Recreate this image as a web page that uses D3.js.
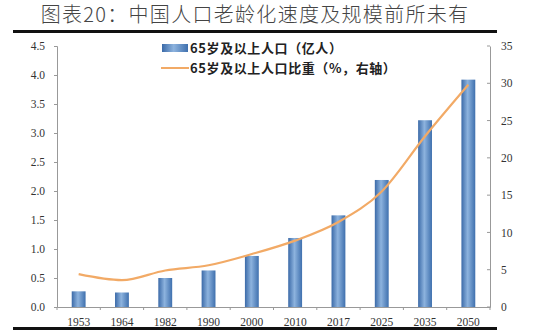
<!DOCTYPE html>
<html>
<head>
<meta charset="utf-8">
<script src="https://cdn.jsdelivr.net/npm/d3@7"></script>
<style>
  html, body { margin: 0; padding: 0; background: #fff; }
  svg { display: block; }
</style>
</head>
<body>
<svg id="chart" width="553" height="334"></svg>
<script>
// Census years and projections
const years = ["1953", "1964", "1982", "1990", "2000", "2010", "2017", "2025", "2035", "2050"];
// Population aged 65+ (hundred million people)
const elderly = [0.27, 0.25, 0.50, 0.63, 0.88, 1.19, 1.58, 2.19, 3.22, 3.92];
// Share of population aged 65+ (%, right axis)
const elderlyShare = [4.4, 3.6, 4.9, 5.6, 7.1, 8.9, 11.4, 15.5, 22.9, 29.8];
const leftTicks = [0, 0.5, 1.0, 1.5, 2.0, 2.5, 3.0, 3.5, 4.0, 4.5];
const rightTicks = [0, 5, 10, 15, 20, 25, 30, 35];

const svg = d3.select("#chart");
const serif = "'Liberation Serif', 'Times New Roman', serif";
const cjk = "'Noto Sans CJK SC', sans-serif";

const margin = { left: 57, right: 63, top: 46, bottom: 27 };
const W = 553, H = 334;
const x0 = margin.left, x1 = W - margin.right;
const y0 = H - margin.bottom, y1 = margin.top;

const x = d3.scaleBand().domain(years).range([x0, x1]).paddingInner(0.68).paddingOuter(0.34);
const yL = d3.scaleLinear().domain([0, 4.5]).range([y0, y1]);
const yR = d3.scaleLinear().domain([0, 35]).range([y0, y1]);

// Title
svg.append("text")
  .attr("x", 255).attr("y", 22)
  .attr("text-anchor", "middle")
  .attr("font-family", cjk)
  .attr("font-size", 20)
  .attr("font-weight", 300)
  .attr("letter-spacing", 1.3)
  .attr("fill", "#444")
  .text("图表20：中国人口老龄化速度及规模前所未有");

// Heavy rules above and below the plot
svg.append("rect").attr("x", 13).attr("y", 30).attr("width", 484).attr("height", 3).attr("fill", "#111");
svg.append("rect").attr("x", 13).attr("y", 327).attr("width", 484).attr("height", 3).attr("fill", "#111");

// Bar gradient
const defs = svg.append("defs");
const grad = defs.append("linearGradient").attr("id", "barGrad")
  .attr("x1", "0%").attr("x2", "100%").attr("y1", "0%").attr("y2", "0%");
grad.append("stop").attr("offset", "0%").attr("stop-color", "#3b6aa8");
grad.append("stop").attr("offset", "45%").attr("stop-color", "#8db3de");
grad.append("stop").attr("offset", "100%").attr("stop-color", "#3f70ae");

// Bars
svg.append("g").selectAll("rect")
  .data(years)
  .join("rect")
  .attr("x", d => x(d))
  .attr("width", x.bandwidth())
  .attr("y", (d, i) => yL(elderly[i]))
  .attr("height", (d, i) => y0 - yL(elderly[i]))
  .attr("fill", "url(#barGrad)");

// Share line
const line = d3.line()
  .x((d, i) => x(years[i]) + x.bandwidth() / 2)
  .y(d => yR(d))
  .curve(d3.curveMonotoneX);
svg.append("path")
  .datum(elderlyShare)
  .attr("d", line)
  .attr("fill", "none")
  .attr("stroke", "#f2aa66")
  .attr("stroke-width", 2.2);

// Axes
const axisColor = "#999";
const gL = svg.append("g").attr("transform", `translate(${x0},0)`)
  .call(d3.axisLeft(yL).tickValues(leftTicks).tickFormat(d3.format(".1f")).tickSize(3).tickPadding(9));
const gR = svg.append("g").attr("transform", `translate(${x1},0)`)
  .call(d3.axisRight(yR).tickValues(rightTicks).tickSize(0).tickPadding(11));
// short inward ticks on right axis
svg.append("g").selectAll("line").data(rightTicks).join("line")
  .attr("x1", x1 - 3).attr("x2", x1)
  .attr("y1", d => yR(d)).attr("y2", d => yR(d))
  .attr("stroke", axisColor);

const gX = svg.append("g").attr("transform", `translate(0,${y0})`)
  .call(d3.axisBottom(x).tickSize(0).tickPadding(11));
// category boundary ticks
const bounds = years.map((d, i) => x0 + i * (x1 - x0) / years.length).concat([x1]);
svg.append("g").selectAll("line").data(bounds).join("line")
  .attr("x1", d => d).attr("x2", d => d)
  .attr("y1", y0).attr("y2", y0 + 3)
  .attr("stroke", axisColor);

[gL, gR, gX].forEach(g => {
  g.select(".domain").attr("stroke", axisColor);
  g.selectAll(".tick line").attr("stroke", axisColor);
  g.selectAll("text").attr("font-family", serif).attr("font-size", 11.5).attr("fill", "#333");
});

// Legend
const lg = svg.append("g");
lg.append("rect").attr("x", 162).attr("y", 44).attr("width", 26).attr("height", 8).attr("fill", "url(#barGrad)");
lg.append("text").attr("x", 190).attr("y", 53)
  .attr("font-family", cjk).attr("font-size", 13).attr("font-weight", "bold").attr("letter-spacing", 0.6).attr("fill", "#222")
  .text("65岁及以上人口（亿人）");
lg.append("line").attr("x1", 161).attr("x2", 189).attr("y1", 68).attr("y2", 68)
  .attr("stroke", "#f2aa66").attr("stroke-width", 2);
lg.append("text").attr("x", 190).attr("y", 73)
  .attr("font-family", cjk).attr("font-size", 13).attr("font-weight", "bold").attr("letter-spacing", 0.6).attr("fill", "#222")
  .text("65岁及以上人口比重（%，右轴）");
</script>
</body>
</html>
